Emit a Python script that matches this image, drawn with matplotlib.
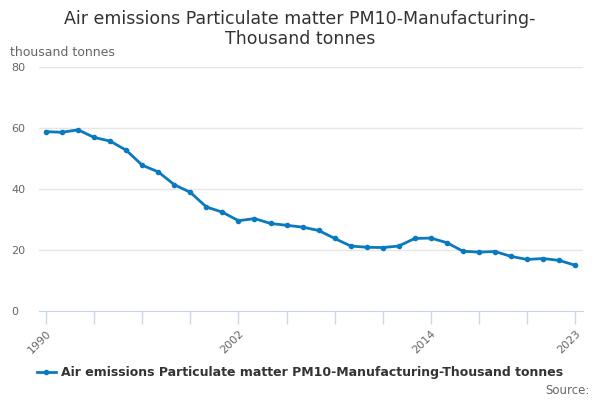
import matplotlib
matplotlib.use('Agg')
import matplotlib.pyplot as plt

# Annual values, thousand tonnes
years = list(range(1990, 2024))
values = [58.8, 58.6, 59.4, 56.9, 55.7, 52.7, 47.8, 45.6, 41.4, 38.9,
          34.1, 32.4, 29.6, 30.3, 28.7, 28.1, 27.5, 26.4, 23.8, 21.3,
          20.9, 20.8, 21.3, 23.8, 23.9, 22.4, 19.6, 19.3, 19.5, 17.9,
          16.9, 17.2, 16.6, 15.0]
tick_years = list(range(1990, 2024, 3))
labelled_years = [1990, 2002, 2014, 2023]

series_name = 'Air emissions Particulate matter PM10-Manufacturing-Thousand tonnes'

fig = plt.figure(figsize=(6, 4), dpi=100)
ax = fig.add_axes([0.065, 0.2225, 0.907, 0.61])

ax.plot(years, values, color='#0b79c0', lw=2, marker='o', ms=3, label=series_name)

ax.set_xlim(1989.56, 2023.5)
ax.set_ylim(0, 80)
ax.set_yticks([0, 20, 40, 60, 80])
ax.set_xticks(tick_years)
ax.set_xticklabels([str(y) if y in labelled_years else '' for y in tick_years],
                   rotation=45, ha='right', rotation_mode='anchor')

ax.grid(axis='y', color='#e6e6e6', lw=1)
ax.set_axisbelow(True)
for s in ['top', 'right', 'left']:
    ax.spines[s].set_visible(False)
ax.spines['bottom'].set_color('#ccd6eb')
ax.tick_params(axis='x', colors='#ccd6eb', length=9, width=1, labelcolor='#666666', labelsize=8)
ax.tick_params(axis='y', length=0, labelcolor='#666666', labelsize=8, pad=20)
for lab in ax.get_yticklabels():
    lab.set_horizontalalignment('left')

fig.text(0.5, 0.975, 'Air emissions Particulate matter PM10-Manufacturing-\nThousand tonnes',
         ha='center', va='top', fontsize=12.5, color='#333333', linespacing=1.12)
fig.text(0.017, 0.868, 'thousand tonnes', ha='left', va='center', fontsize=9, color='#666666')

leg = fig.legend(loc='center', bbox_to_anchor=(0.5, 0.068), frameon=False,
                 prop={'weight': 'bold', 'size': 9}, handlelength=1.5, handletextpad=0.4)
for t in leg.get_texts():
    t.set_color('#333333')

fig.text(0.982, 0.025, 'Source:', ha='right', va='center', fontsize=8.5, color='#666666')

fig.savefig('out.png', dpi=100)
